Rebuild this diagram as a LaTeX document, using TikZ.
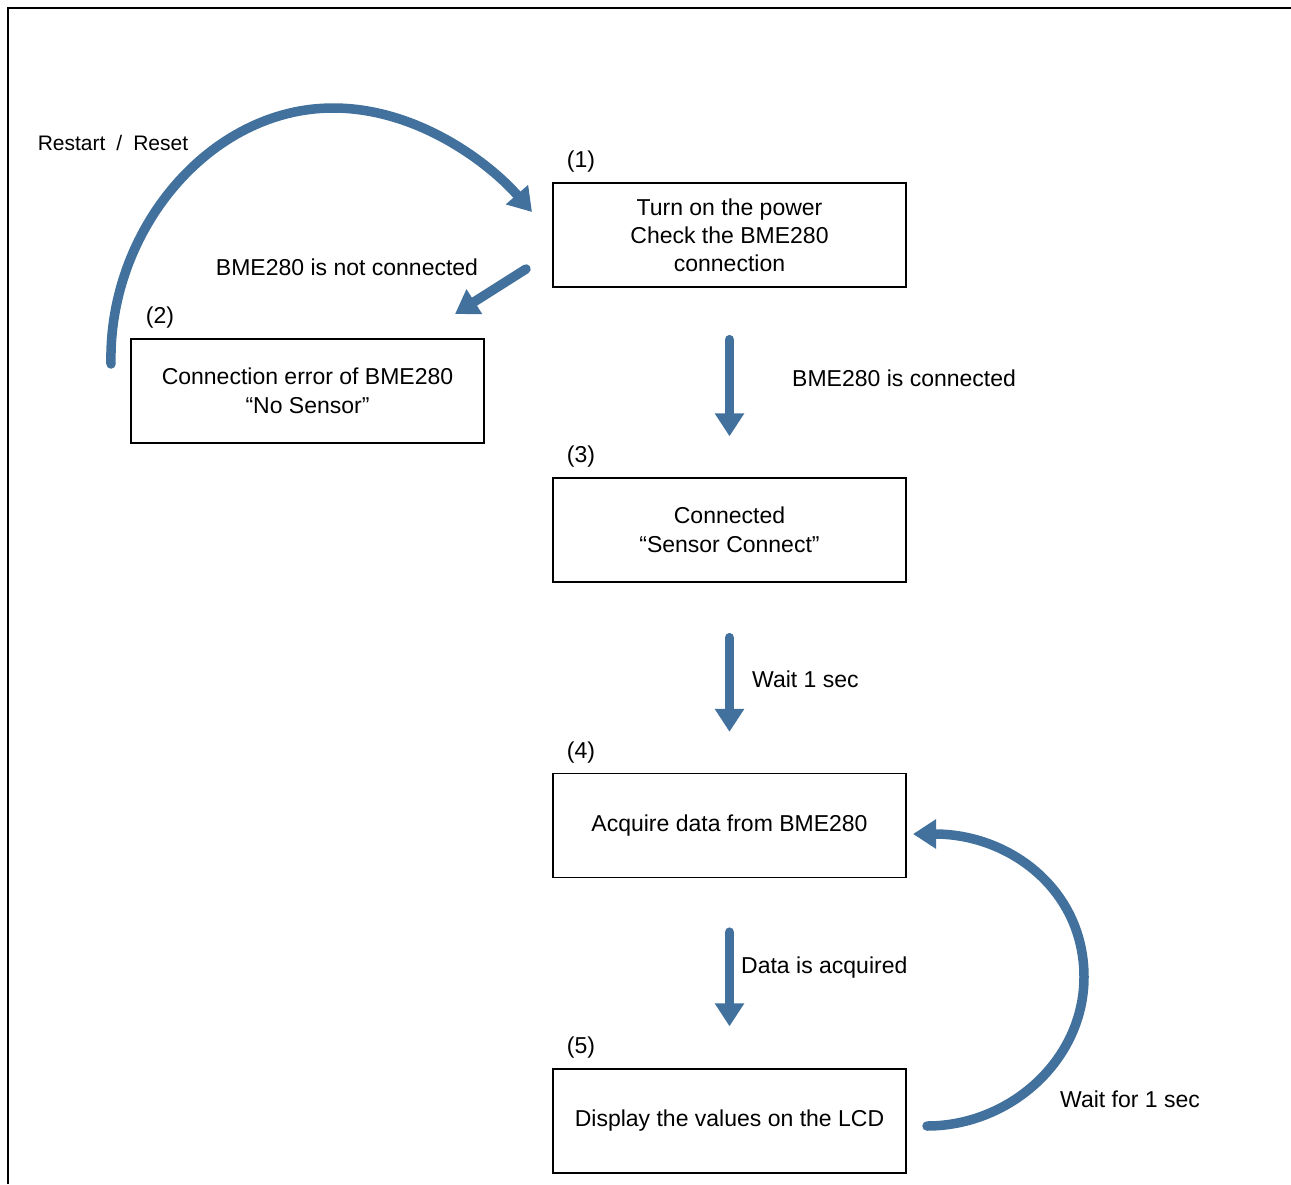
\documentclass[tikz,border=0pt]{standalone}
\usepackage{fontspec}
\setmainfont{Liberation Sans}
\usetikzlibrary{arrows.meta}
\definecolor{flowblue}{RGB}{65,113,156}
\begin{document}
\begin{tikzpicture}[x=1pt,y=-1pt,
  box/.style={draw=black, line width=1.3pt, minimum width=353pt, minimum height=104pt,
    align=center, font=\fontsize{23}{29}\selectfont, inner sep=0pt},
  lbl/.style={font=\fontsize{23}{28}\selectfont, inner sep=0pt},
  flow/.style={draw=flowblue, line width=9.5pt, line cap=round,
    -{Triangle[width=28pt,length=23pt]}},
]
\useasboundingbox (0,0) rectangle (1291,1184);
\draw[line width=2.6pt] (8,1184) -- (8,8) -- (1291,8);

% boxes
\node[box] (b1) at (729.5,235) {Turn on the power\\[-1pt]Check the BME280\\[-1pt]connection};
\node[box] (b2) at (307.5,391) {Connection error of BME280\\“No Sensor”};
\node[box] (b3) at (729.5,530) {Connected\\“Sensor Connect”};
\node[box] (b4) at (729.5,825.5) {Acquire data from BME280};
\node[box] (b5) at (729.5,1121) {Display the values on the LCD};

% numbers
\node[lbl] (n1) at (581,162) {(1)};
\node[lbl] (n2) at (160,318) {(2)};
\node[lbl] (n3) at (581,457) {(3)};
\node[lbl] (n4) at (581,753) {(4)};
\node[lbl] (n5) at (581,1048) {(5)};

% vertical arrows
\draw[flow, shorten <=52pt, shorten >=41pt] (b1) -- (b3);
\draw[flow, shorten <=55pt, shorten >=41pt] (b3) -- (b4);
\draw[flow, shorten <=54pt, shorten >=42pt] (b4) -- (b5);

\node[lbl, anchor=west] (l13) at (792,378) {BME280 is connected};
\node[lbl, anchor=west] (l34) at (752,679) {Wait 1 sec};
\node[lbl, anchor=west] (l45) at (741,968) {Data is acquired};

% diagonal arrow to error box
\coordinate (d0) at (526,269);
\coordinate (d1) at (455,314);
\draw[flow] (d0) -- (d1);
\node[lbl] (l12) at (347,267) {BME280 is not connected};

% restart arc
\coordinate (r0) at (111,364);
\coordinate (r1) at (333,108);
\coordinate (r2) at (532,212);
\draw[flow] (r0) .. controls (108,230) and (210,108) .. (r1)
  .. controls (420,108) and (492,166) .. (r2);
\node[font=\fontsize{21}{24}\selectfont, inner sep=0pt] (lr) at (113,143)
  {Restart\hspace{11pt}/\hspace{11pt}Reset};

% wait loop arc
\coordinate (w0) at (927,1126);
\coordinate (w1) at (1084,977);
\coordinate (w2) at (913,834);
\draw[flow] (w0) .. controls (1010,1126) and (1084,1060) .. (w1)
  .. controls (1084,890) and (1010,834) .. (w2);
\node[lbl, anchor=west] (lw) at (1060,1099) {Wait for 1 sec};
\end{tikzpicture}
\end{document}
